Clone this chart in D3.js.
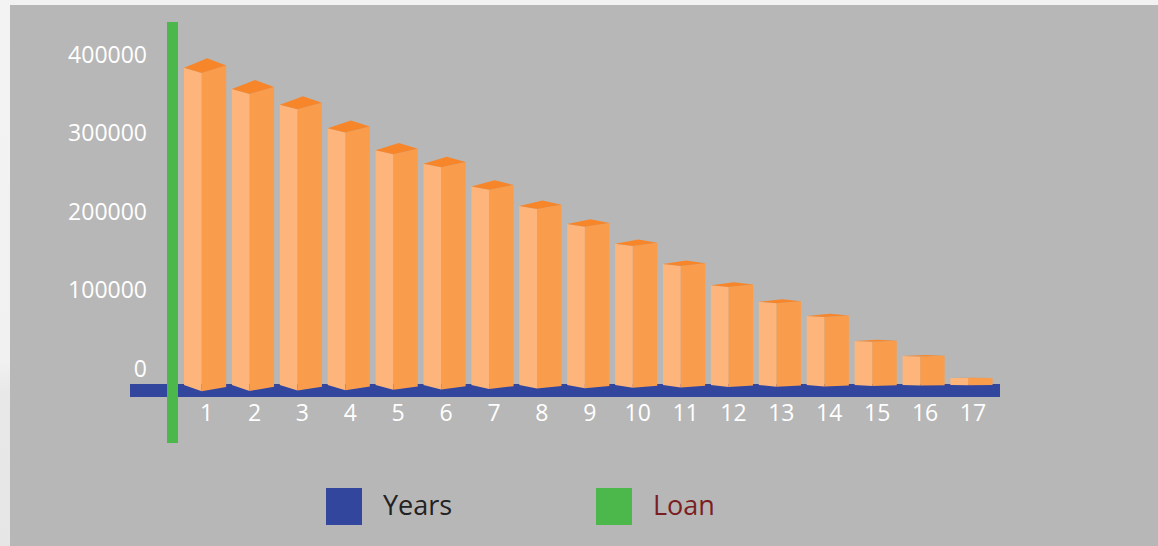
<!DOCTYPE html>
<html>
<head>
<meta charset="utf-8">
<script src="https://cdn.jsdelivr.net/npm/d3@7"></script>
<style>
  html, body { margin: 0; padding: 0; background: #f2f2f2; }
  svg { display: block; }
  text { font-family: "Open Sans", "Noto Sans", sans-serif; }
</style>
</head>
<body>
<svg id="chart" width="1158" height="546"></svg>
<script>
// ---- data ----
const years = ["1","2","3","4","5","6","7","8","9","10","11","12","13","14","15","16","17"];
const loanBalance = [404000, 377000, 357000, 327000, 299000, 282000, 253000, 228000, 205000, 180000, 154000, 127000, 106000, 88000, 56000, 37000, 9000];
const yTickValues = [0, 100000, 200000, 300000, 400000];
const legendLabels = ["Years", "Loan"];

// ---- styles ----
const colors = {
  panel: "#b7b7b7",
  leftFace: "#fdb57b",
  rightFace: "#f99d4c",
  topFace: "#f7862b",
  years: "#33469e",
  loan: "#4cb84b",
  yearsText: "#222222",
  loanText: "#7b1d22"
};

const svg = d3.select("#chart");

// background
const defs = svg.append("defs");
const grad = defs.append("linearGradient").attr("id", "leftStrip")
  .attr("x1", 0).attr("y1", 0).attr("x2", 0).attr("y2", 1);
grad.append("stop").attr("offset", "0%").attr("stop-color", "#f3f3f3");
grad.append("stop").attr("offset", "66%").attr("stop-color", "#f1f1f1");
grad.append("stop").attr("offset", "72%").attr("stop-color", "#e8e8e8");
grad.append("stop").attr("offset", "100%").attr("stop-color", "#e6e6e6");
svg.append("rect").attr("x", 0).attr("y", 0).attr("width", 10).attr("height", 546).attr("fill", "url(#leftStrip)");
svg.append("rect").attr("x", 10).attr("y", 5).attr("width", 1148).attr("height", 541).attr("fill", colors.panel);

// scales
const x = d3.scaleBand().domain(years).range([178.25, 998.3]).padding(0.12);
const y = d3.scaleLinear().domain([0, 400000]).range([385, 71]);
const base = y(0);

// blue baseline band (Years)
svg.append("rect").attr("x", 130).attr("y", 384).attr("width", 870).attr("height", 13).attr("fill", colors.years);

// 3D bars
const bars = svg.append("g").selectAll("g").data(loanBalance).join("g");
function geom(d, i) {
  const xl = x(years[i]);
  const w = x.bandwidth();
  const xr = xl + w;
  const xm = xl + 0.42 * w;
  const yt = y(d);
  const h = base - yt;
  const dep = h * 0.047;
  const v = h * 0.02;
  return { xl, xr, xm, yt, dep, v, w };
}
bars.append("path")
  .attr("fill", colors.leftFace)
  .attr("d", (d, i) => {
    const g = geom(d, i);
    return `M${g.xl},${g.yt} L${g.xm},${g.yt + 0.35 * g.dep} L${g.xm},${base + g.v} L${g.xl},${base} Z`;
  });
bars.append("path")
  .attr("fill", colors.rightFace)
  .attr("d", (d, i) => {
    const g = geom(d, i);
    return `M${g.xm},${g.yt + 0.35 * g.dep} L${g.xr},${g.yt - 0.15 * g.dep} L${g.xr},${base + 0.3 * g.v} L${g.xm},${base + g.v} Z`;
  });
bars.append("path")
  .attr("fill", colors.topFace)
  .attr("d", (d, i) => {
    const g = geom(d, i);
    return `M${g.xl},${g.yt} L${g.xl + 0.55 * g.w},${g.yt - 0.65 * g.dep} L${g.xr},${g.yt - 0.15 * g.dep} L${g.xm},${g.yt + 0.35 * g.dep} Z`;
  });

// green vertical bar (Loan axis)
svg.append("rect").attr("x", 167).attr("y", 22).attr("width", 11).attr("height", 421).attr("fill", colors.loan);

// y axis labels
const yAxis = svg.append("g").attr("transform", "translate(150,0)")
  .call(d3.axisLeft(y).tickValues(yTickValues).tickSize(0).tickPadding(3).tickFormat(d3.format("d")));
yAxis.select(".domain").remove();
yAxis.selectAll("text")
  .attr("fill", "#ffffff")
  .attr("font-size", 23)
  .attr("font-family", "'Open Sans', sans-serif")
  .attr("transform", "translate(0,-16)");

// x axis labels
const xAxis = svg.append("g").attr("transform", "translate(1.5,397)")
  .call(d3.axisBottom(x).tickSize(0).tickPadding(8));
xAxis.select(".domain").remove();
xAxis.selectAll("text")
  .attr("fill", "#ffffff")
  .attr("font-size", 23)
  .attr("font-family", "'Open Sans', sans-serif");

// legend
const legend = [
  { label: legendLabels[0], color: colors.years, text: colors.yearsText, x: 326 },
  { label: legendLabels[1], color: colors.loan, text: colors.loanText, x: 596 }
];
const lg = svg.append("g").selectAll("g").data(legend).join("g")
  .attr("transform", d => `translate(${d.x},488)`);
lg.append("rect").attr("width", 36).attr("height", 37).attr("fill", d => d.color);
lg.append("text")
  .attr("x", 57).attr("y", 27)
  .attr("font-size", 27)
  .attr("fill", d => d.text)
  .text(d => d.label);
</script>
</body>
</html>
